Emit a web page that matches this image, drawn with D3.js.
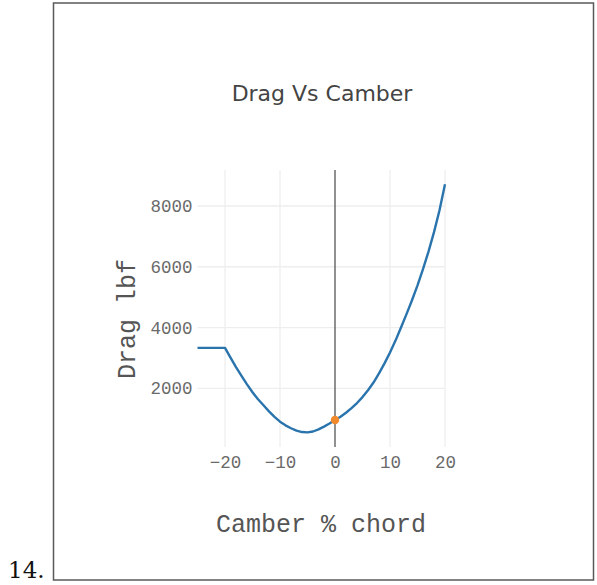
<!DOCTYPE html>
<html>
<head>
<meta charset="utf-8">
<script src="https://cdn.jsdelivr.net/npm/d3@7"></script>
<style>
  html, body { margin: 0; padding: 0; background: #fff; }
  svg { display: block; }
</style>
</head>
<body>
<svg id="chart" width="597" height="585"></svg>
<script>
// Drag (lbf) against camber (% chord)
const camber = [-25, -24, -23, -22, -21, -20, -19, -18, -17, -16, -15, -14, -13, -12, -11,
  -10, -9, -8, -7, -6, -5, -4, -3, -2, -1, 0, 1, 2, 3, 4, 5, 6, 7, 8, 9, 10,
  11, 12, 13, 14, 15, 16, 17, 18, 19, 20];
const drag = [3330, 3330, 3330, 3330, 3330, 3330, 3010, 2700, 2410, 2130, 1870, 1640, 1440, 1240, 1060,
  900, 780, 685, 605, 560, 548, 578, 650, 740, 840, 955, 1065, 1195, 1345, 1515, 1710, 1935, 2190, 2490, 2820, 3180,
  3570, 4000, 4440, 4900, 5390, 5920, 6500, 7140, 7860, 8720];

// Design point marker
const pointCamber = [0];
const pointDrag = [955];

const xTicks = [-20, -10, 0, 10, 20];
const yTicks = [2000, 4000, 6000, 8000];

const chartTitle = "Drag Vs Camber";
const xTitle = "Camber % chord";
const yTitle = "Drag lbf";
const figLabel = "14.";

const svg = d3.select("#chart");

const plot = { left: 197.5, right: 445, top: 170, bottom: 447 };

const x = d3.scaleLinear().domain([-25, 20]).range([plot.left, plot.right]);
const y = d3.scaleLinear().domain([68, 9185]).range([plot.bottom, plot.top]);

// outer frame
svg.append("rect")
  .attr("x", 53.5).attr("y", 3)
  .attr("width", 540).attr("height", 577)
  .attr("fill", "none")
  .attr("stroke", "#5a5a5a")
  .attr("stroke-width", 1.5);

svg.append("text")
  .attr("x", 8).attr("y", 578)
  .attr("font-family", "'DejaVu Serif', 'Liberation Serif', serif")
  .attr("font-size", 23)
  .attr("fill", "#111")
  .text(figLabel);

// grid lines
const grid = svg.append("g");
grid.selectAll("line.gx")
  .data(xTicks.filter(d => d !== 0))
  .join("line")
  .attr("x1", d => x(d)).attr("x2", d => x(d))
  .attr("y1", plot.top).attr("y2", plot.bottom)
  .attr("stroke", "#eee").attr("stroke-width", 1.3);
grid.selectAll("line.gy")
  .data(yTicks)
  .join("line")
  .attr("x1", plot.left).attr("x2", plot.right)
  .attr("y1", d => y(d)).attr("y2", d => y(d))
  .attr("stroke", "#eee").attr("stroke-width", 1.3);

// zero line for the camber axis
svg.append("line")
  .attr("x1", x(0)).attr("x2", x(0))
  .attr("y1", plot.top).attr("y2", plot.bottom)
  .attr("stroke", "#555").attr("stroke-width", 1.3);

// axes (tick labels only)
const tickFont = "'Liberation Mono', 'Courier New', monospace";
const xAxis = svg.append("g")
  .attr("transform", `translate(0,${plot.bottom + 3})`)
  .call(d3.axisBottom(x).tickValues(xTicks).tickSize(0).tickPadding(6)
    .tickFormat(d => d < 0 ? "\u2212" + Math.abs(d) : String(d)));
xAxis.select(".domain").remove();
xAxis.selectAll("text")
  .attr("font-family", tickFont).attr("font-size", 17.5).attr("fill", "#6a6a6a");

const yAxis = svg.append("g")
  .attr("transform", `translate(${plot.left - 3},0)`)
  .call(d3.axisLeft(y).tickValues(yTicks).tickSize(0).tickPadding(2)
    .tickFormat(d3.format("d")));
yAxis.select(".domain").remove();
yAxis.selectAll("text")
  .attr("font-family", tickFont).attr("font-size", 17.5).attr("fill", "#6a6a6a");

// drag curve
const line = d3.line()
  .x((d, i) => x(camber[i]))
  .y(d => y(d));
svg.append("path")
  .datum(drag)
  .attr("d", line)
  .attr("fill", "none")
  .attr("stroke", "#2a74ad")
  .attr("stroke-width", 2.4)
  .attr("stroke-linejoin", "round");

svg.selectAll("circle.pt")
  .data(pointDrag)
  .join("circle")
  .attr("cx", (d, i) => x(pointCamber[i]))
  .attr("cy", d => y(d))
  .attr("r", 4.2)
  .attr("fill", "#f08a2c");

// titles
svg.append("text")
  .attr("x", 322).attr("y", 101)
  .attr("text-anchor", "middle")
  .attr("font-family", "'DejaVu Sans', Verdana, sans-serif")
  .attr("font-size", 22)
  .attr("fill", "#444")
  .text(chartTitle);

svg.append("text")
  .attr("x", 321).attr("y", 532)
  .attr("text-anchor", "middle")
  .attr("font-family", tickFont)
  .attr("font-size", 25)
  .attr("fill", "#555")
  .text(xTitle);

svg.append("text")
  .attr("transform", "translate(135,319) rotate(-90)")
  .attr("text-anchor", "middle")
  .attr("font-family", tickFont)
  .attr("font-size", 25)
  .attr("fill", "#555")
  .text(yTitle);
</script>
</body>
</html>
